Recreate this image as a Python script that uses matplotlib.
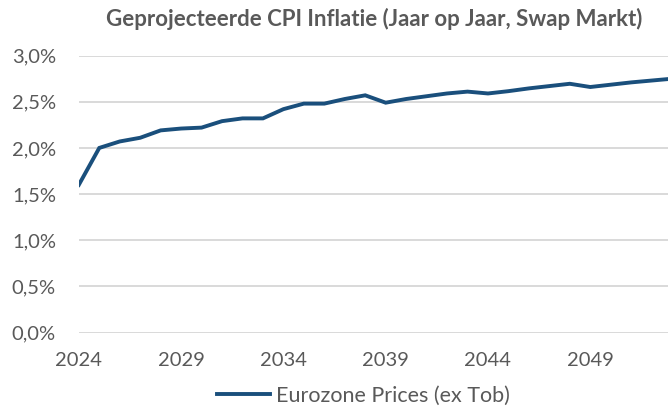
import matplotlib
matplotlib.use('Agg')
import matplotlib.pyplot as plt
import numpy as np

years = np.arange(2024, 2054)
cpi = [1.60, 2.00, 2.07, 2.11, 2.19, 2.21, 2.22, 2.29, 2.32, 2.32,
       2.42, 2.48, 2.48, 2.53, 2.57, 2.49, 2.53, 2.56, 2.59, 2.61,
       2.59, 2.615, 2.645, 2.67, 2.695, 2.66, 2.685, 2.71, 2.73, 2.75]
y_ticks = [0, 0.5, 1.0, 1.5, 2.0, 2.5, 3.0]
x_ticks = [2024, 2029, 2034, 2039, 2044, 2049]
title = 'Geprojecteerde CPI Inflatie (Jaar op Jaar, Swap Markt)'
label = 'Eurozone Prices (ex Tob)'

def main():
    plt.rcParams['font.family'] = ['Lato', 'DejaVu Sans']
    grey = '#595959'
    blue = '#1a4f7c'

    fig = plt.figure(figsize=(6.68, 4.09), dpi=100)
    ax = fig.add_axes([0.118, 0.187, 0.882, 0.677])
    ax.plot(years, cpi, color=blue, linewidth=2.8, label=label,
            solid_joinstyle='miter')

    ax.set_xlim(2024, 2052.8)
    ax.set_ylim(0, 3.0)
    ax.set_yticks(y_ticks)
    ax.set_yticklabels([('%.1f%%' % v).replace('.', ',') for v in y_ticks])
    ax.set_xticks(x_ticks)
    ax.tick_params(axis='both', length=0, labelsize=14.5, colors=grey)
    ax.tick_params(axis='y', pad=16.5)
    ax.tick_params(axis='x', pad=14)
    ax.grid(axis='y', color='#d9d9d9', linewidth=1.4)
    ax.set_axisbelow(True)
    for s in ax.spines.values():
        s.set_visible(False)

    fig.text(0.56, 0.954, title, ha='center', va='center', fontsize=16,
             fontweight='bold', color=grey)
    fig.legend(loc='center', bbox_to_anchor=(0.544, 0.032), frameon=False,
               fontsize=15.5, labelcolor=grey, handlelength=2.46, handletextpad=0.25)

    fig.savefig('out.png', dpi=100)

if __name__ == "__main__":
    main()
